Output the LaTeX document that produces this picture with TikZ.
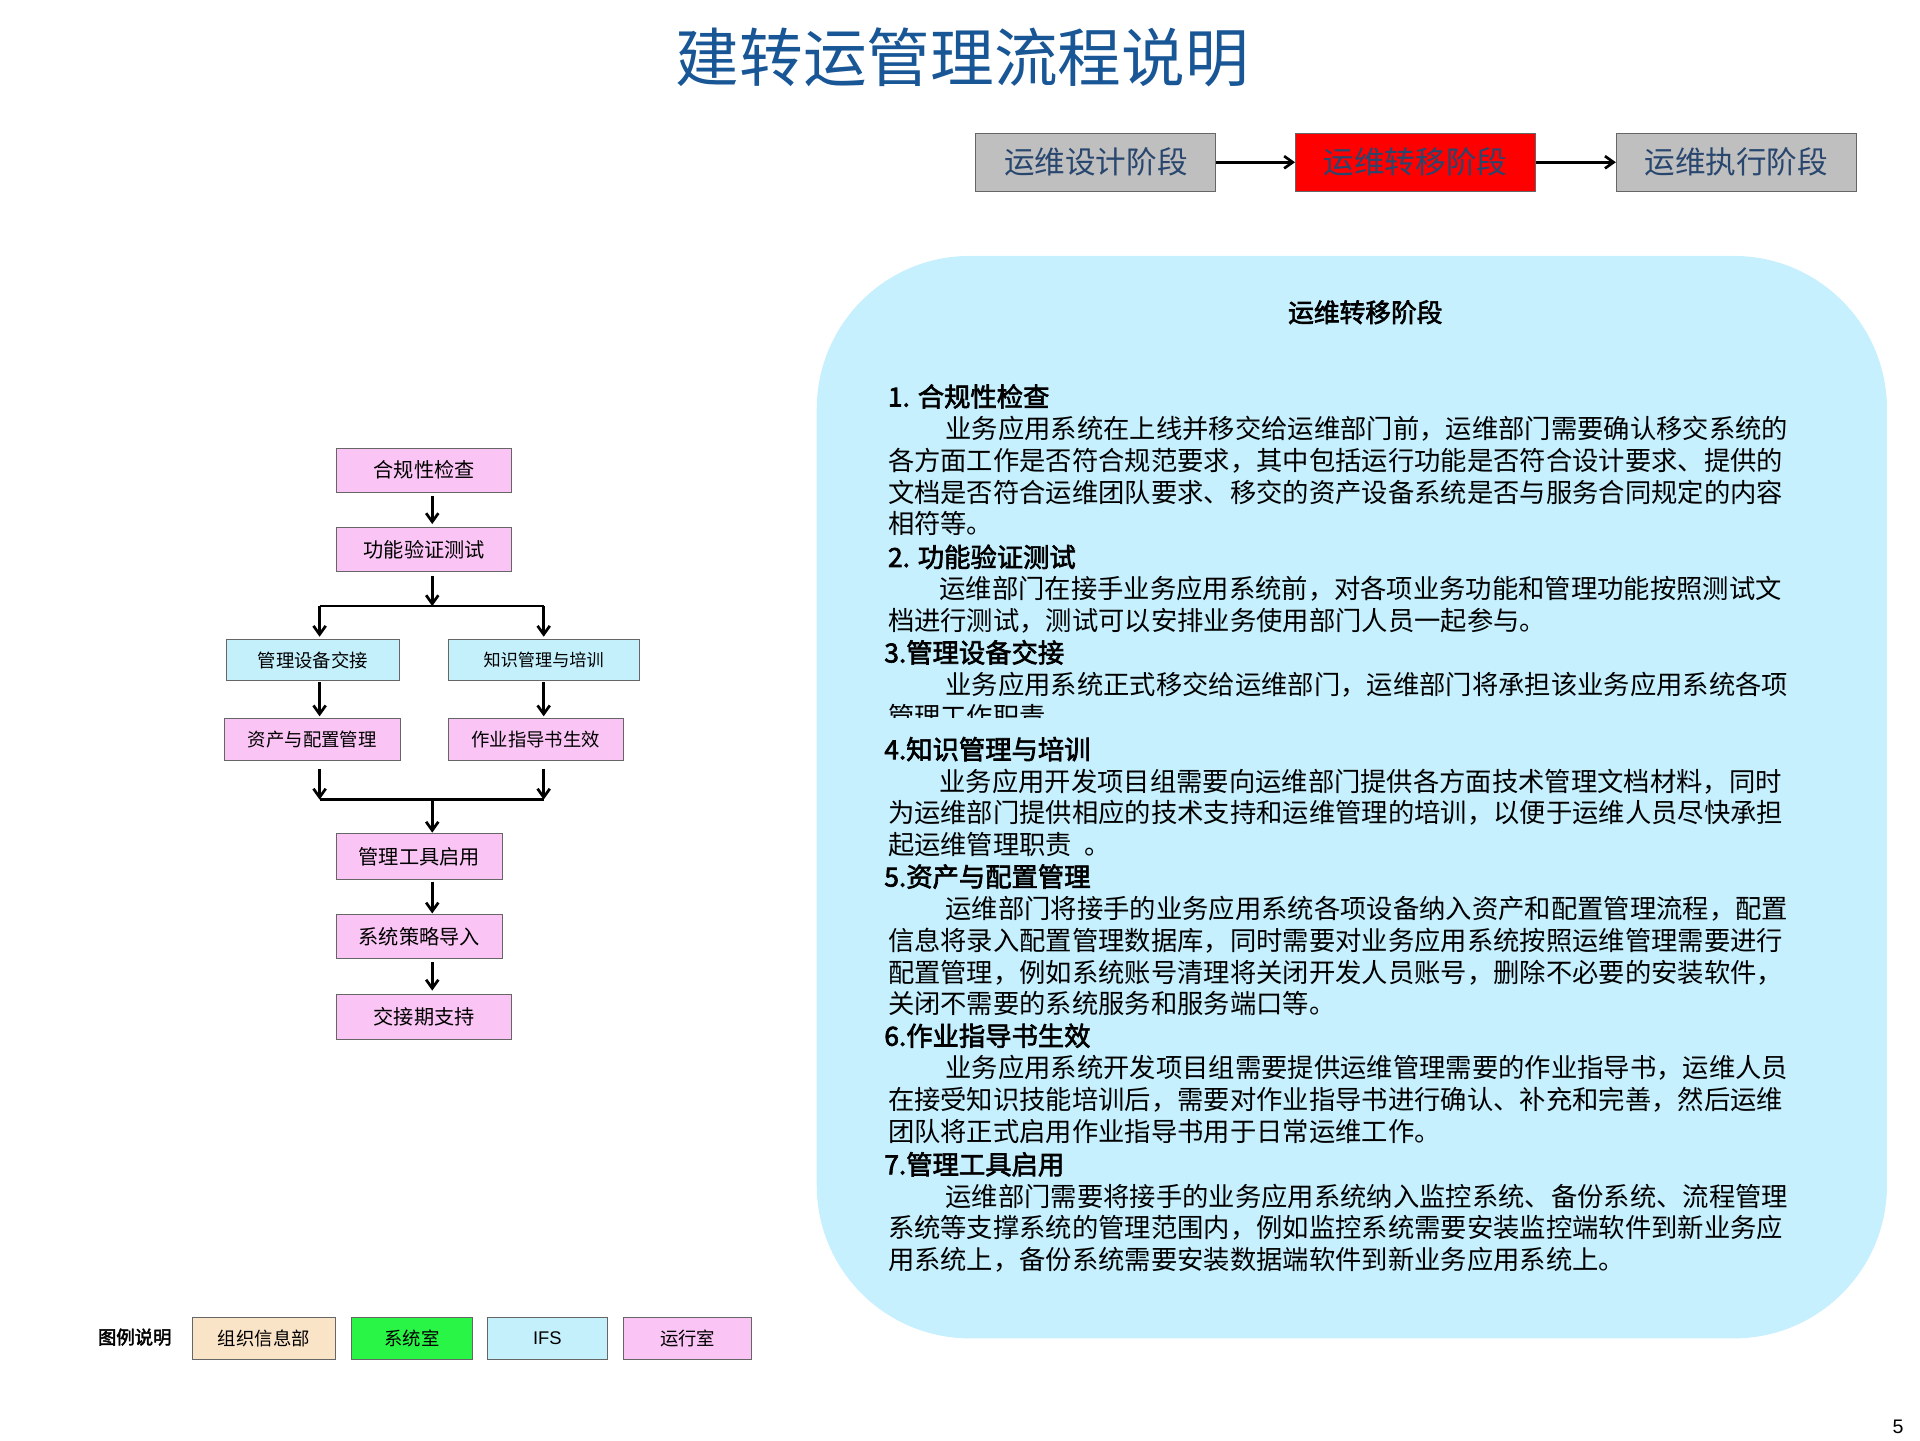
\documentclass[tikz,border=0pt]{standalone}
\usepackage{fontspec}
\setmainfont{Noto Sans CJK SC}[AutoFakeBold=2.5]
\newfontfamily\latinf{Liberation Sans}
\usetikzlibrary{arrows.meta}
\definecolor{pinkf}{RGB}{250,196,244}
\definecolor{cyanf}{RGB}{196,240,252}
\definecolor{bubble}{RGB}{198,240,254}
\definecolor{titleblue}{RGB}{24,86,150}
\definecolor{stagetxt}{RGB}{40,70,110}
\definecolor{wheatf}{RGB}{250,228,200}
\definecolor{greenf}{RGB}{40,245,70}
\tikzset{
 fbox/.style={draw=black!60,line width=0.8pt,minimum height=36pt,inner sep=0pt,font=\fontsize{16.5}{18}\selectfont},
 pinkbox/.style={fbox,fill=pinkf},
 cyanbox/.style={fbox,fill=cyanf},
 stagebox/.style={draw=black!60,line width=0.8pt,minimum width=196pt,minimum height=47pt,font=\fontsize{25}{28}\selectfont,text=stagetxt},
 arr/.style={-{Straight Barb[length=7pt,width=10pt]},line width=2.2pt},
 ln/.style={line width=2.2pt},
 legbox/.style={draw=black!60,line width=0.8pt,minimum height=34pt,font=\fontsize{15}{16}\selectfont},
 bt/.style={anchor=base west,font=\fontsize{21.5}{22}\selectfont,inner sep=0pt},
 ht/.style={anchor=base west,font=\fontsize{21.5}{22}\selectfont\bfseries,inner sep=0pt}
}
\begin{document}
\begin{tikzpicture}[x=1pt,y=-1pt]
\useasboundingbox (0,0) rectangle (1568,1176);
\node[font=\fontsize{52}{56}\selectfont,text=titleblue] (title) at (786,47) {建转运管理流程说明};
\node[stagebox,fill=black!25] (s1) at (895,132.5) {运维设计阶段};
\node[stagebox,fill=red] (s2) at (1156,132.5) {运维转移阶段};
\node[stagebox,fill=black!25] (s3) at (1418,132.5) {运维执行阶段};
\draw[arr] (s1) -- (s2);
\draw[arr] (s2) -- (s3);
% bubble
\fill[bubble,rounded corners=125pt] (667,209) rectangle (1541,1093);
\node[font=\fontsize{21}{22}\selectfont\bfseries] (bh) at (1115,255) {运维转移阶段};
\begin{scope}
\clip (660,200) rectangle (1550,586);
\node[ht] (h1) at (725,332) {1. 合规性检查};
\node[bt] at (725,358) {\hspace{47pt}业务应用系统在上线并移交给运维部门前，运维部门需要确认移交系统的};
\node[bt] at (725,384) {各方面工作是否符合规范要求，其中包括运行功能是否符合设计要求、提供的};
\node[bt] at (725,410) {文档是否符合运维团队要求、移交的资产设备系统是否与服务合同规定的内容};
\node[bt] at (725,436) {相符等。};
\node[ht] (h2) at (725,463) {2. 功能验证测试};
\node[bt] at (725,489) {\hspace{42pt}运维部门在接手业务应用系统前，对各项业务功能和管理功能按照测试文};
\node[bt] at (725,515) {档进行测试，测试可以安排业务使用部门人员一起参与。};
\node[ht] (h3) at (722,541) {3.管理设备交接};
\node[bt] at (725,567) {\hspace{47pt}业务应用系统正式移交给运维部门，运维部门将承担该业务应用系统各项};
\node[bt] at (725,593) {管理工作职责。};
\end{scope}
\node[ht] (h4) at (722,620) {4.知识管理与培训};
\node[bt] at (725,646) {\hspace{42pt}业务应用开发项目组需要向运维部门提供各方面技术管理文档材料，同时};
\node[bt] at (725,672) {为运维部门提供相应的技术支持和运维管理的培训，以便于运维人员尽快承担};
\node[bt] at (725,698) {起运维管理职责\ \ 。};
\node[ht] (h5) at (722,724) {5.资产与配置管理};
\node[bt] at (725,750) {\hspace{47pt}运维部门将接手的业务应用系统各项设备纳入资产和配置管理流程，配置};
\node[bt] at (725,776) {信息将录入配置管理数据库，同时需要对业务应用系统按照运维管理需要进行};
\node[bt] at (725,802) {配置管理，例如系统账号清理将关闭开发人员账号，删除不必要的安装软件，};
\node[bt] at (725,828) {关闭不需要的系统服务和服务端口等。};
\node[ht] (h6) at (722,854) {6.作业指导书生效};
\node[bt] at (725,880) {\hspace{47pt}业务应用系统开发项目组需要提供运维管理需要的作业指导书，运维人员};
\node[bt] at (725,906) {在接受知识技能培训后，需要对作业指导书进行确认、补充和完善，然后运维};
\node[bt] at (725,932) {团队将正式启用作业指导书用于日常运维工作。};
\node[ht] (h7) at (722,959) {7.管理工具启用};
\node[bt] at (725,985) {\hspace{47pt}运维部门需要将接手的业务应用系统纳入监控系统、备份系统、流程管理};
\node[bt] at (725,1011) {系统等支撑系统的管理范围内，例如监控系统需要安装监控端软件到新业务应};
\node[bt] at (725,1037) {用系统上，备份系统需要安装数据端软件到新业务应用系统上。};
% flowchart
\node[pinkbox,minimum width=143pt] (a) at (346.5,384) {合规性检查};
\node[pinkbox,minimum width=143pt] (b) at (346.5,449) {功能验证测试};
\node[cyanbox,minimum width=141pt,minimum height=34pt,font=\fontsize{15}{18}\selectfont] (c) at (255.5,539) {管理设备交接};
\node[cyanbox,minimum width=156pt,minimum height=34pt,font=\fontsize{14}{18}\selectfont] (d) at (444,539) {知识管理与培训};
\node[pinkbox,minimum width=144pt,minimum height=34pt,font=\fontsize{15}{18}\selectfont] (e) at (255,604) {资产与配置管理};
\node[pinkbox,minimum width=143pt,minimum height=34pt,font=\fontsize{15}{18}\selectfont] (f) at (437.5,604) {作业指导书生效};
\node[pinkbox,minimum width=135pt,minimum height=37pt] (g) at (342.5,699.5) {管理工具启用};
\node[pinkbox,minimum width=135pt] (h) at (342.5,765) {系统策略导入};
\node[pinkbox,minimum width=143pt,minimum height=37pt] (i) at (346.5,830.5) {交接期支持};
\coordinate (j1) at (353,495);
\coordinate (j1l) at (261,495);
\coordinate (j1r) at (444,495);
\coordinate (j2) at (353,653);
\coordinate (j2l) at (261,653);
\coordinate (j2r) at (444,653);
\draw[arr] (353,405) -- (353,428);
\draw[arr] (353,470) -- (j1);
\draw[ln] (j1l) -- (j1r);
\draw[arr] (j1l) -- (261,520);
\draw[arr] (j1r) -- (444,520);
\draw[arr] (261,557) -- (261,585);
\draw[arr] (444,557) -- (444,585);
\draw[arr] (261,628) -- (j2l);
\draw[arr] (444,628) -- (j2r);
\draw[ln] (j2l) -- (j2r);
\draw[arr] (j2) -- (353,680);
\draw[arr] (353,720) -- (353,746);
\draw[arr] (353,786) -- (353,809);
% legend
\node[font=\fontsize{15}{16}\selectfont\bfseries] (lg) at (110,1092) {图例说明};
\node[legbox,fill=wheatf,minimum width=117pt] (l1) at (215.5,1093) {组织信息部};
\node[legbox,fill=greenf,minimum width=99pt] (l2) at (336.5,1093) {系统室};
\node[legbox,fill=cyanf,minimum width=98pt,font=\fontsize{15}{16}\selectfont\latinf] (l3) at (447,1093) {IFS};
\node[legbox,fill=pinkf,minimum width=105pt] (l4) at (561.5,1093) {运行室};
\node[font=\fontsize{16}{18}\selectfont\latinf] (pn) at (1550,1165) {5};
\end{tikzpicture}
\end{document}
